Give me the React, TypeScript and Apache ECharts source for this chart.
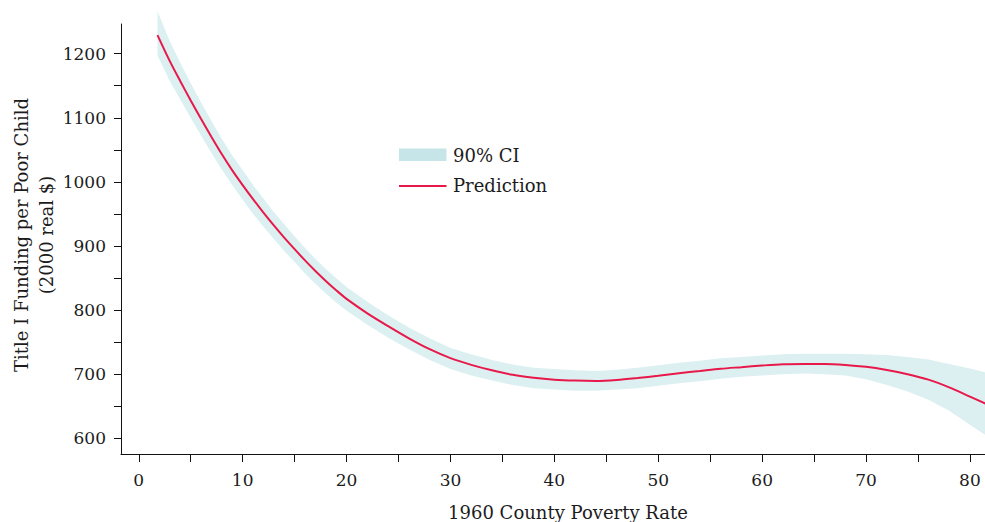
import React, { useEffect, useRef } from "react";
import * as echarts from "echarts";

const povertyRate = [1.8, 3, 4, 5, 6, 7, 8, 9, 10, 11, 12, 13, 14, 15, 16, 17, 18, 19, 20, 22, 24, 26, 28, 30, 32, 34, 36, 38, 40, 42, 44, 46, 48, 50, 52, 54, 56, 58, 60, 62, 64, 66, 68, 70, 72, 74, 76, 78, 80, 81.5];
const prediction = [1229, 1188, 1157, 1127, 1098, 1070, 1043, 1018, 995, 973, 952, 932, 913, 895, 877.5, 861, 845.5, 831, 817.5, 795, 775, 756, 739, 725, 714.5, 706, 699, 694.5, 691.5, 690, 689.5, 691, 694, 697.5, 701.5, 705, 708.5, 711, 713.5, 715.5, 716, 716, 714.5, 711.5, 706.5, 700, 691.5, 679.5, 665, 654];
const ciLower = [1197, 1157, 1128, 1100, 1072, 1045, 1019, 995, 972, 950, 930, 911, 892, 875, 857, 841, 826, 812, 799, 777, 757, 739, 722, 708, 698, 690, 683, 678, 676, 674, 674, 676, 678, 682, 686, 689, 693, 696, 698, 700, 701, 700, 698, 692, 683, 673, 660, 643, 621, 605];
const ciUpper = [1266, 1219, 1186, 1154, 1124, 1095, 1067, 1041, 1018, 995, 974, 953, 934, 915, 897, 880, 864, 850, 836, 813, 792, 773, 756, 741, 731, 722, 715, 710, 708, 706, 705, 707, 710, 714, 718, 721, 725, 727, 729, 731, 732, 732, 732, 731, 730, 727, 723, 716, 709, 703];

const xTickValues = [0, 5, 10, 15, 20, 25, 30, 35, 40, 45, 50, 55, 60, 65, 70, 75, 80];
const xLabelValues = [0, 10, 20, 30, 40, 50, 60, 70, 80];
const yTickValues = [600, 650, 700, 750, 800, 850, 900, 950, 1000, 1050, 1100, 1150, 1200];
const yLabelValues = [600, 700, 800, 900, 1000, 1100, 1200];

const FONT = "DejaVu Serif";
const TEXT = "#1c1c1c";
const BAND = "#dcf0f1";
const BAND_LEGEND = "#c5e5e8";
const LINE = "#e8194a";

export default function App() {
  const ref = useRef<HTMLDivElement>(null);
  useEffect(() => {
    const chart = echarts.init(ref.current as HTMLDivElement, null, { renderer: "svg" });
    chart.setOption({
      animation: false,
      grid: { left: 121, right: 0, top: 24, bottom: 68, containLabel: false },
      xAxis: {
        type: "value",
        min: -1.71,
        max: 81.45,
        axisLine: { show: true, onZero: false, lineStyle: { color: "#111", width: 1 } },
        axisTick: { show: true, customValues: xTickValues, length: 8, lineStyle: { color: "#111" } },
        axisLabel: {
          customValues: xLabelValues,
          fontFamily: FONT,
          fontSize: 17,
          color: TEXT,
          margin: 17,
          formatter: (v: number) => String(v),
        },
        splitLine: { show: false },
      },
      yAxis: {
        type: "value",
        min: 575.5,
        max: 1246.3,
        axisLine: { show: true, onZero: false, lineStyle: { color: "#111", width: 1 } },
        axisTick: { show: true, customValues: yTickValues, length: 7, lineStyle: { color: "#111" } },
        axisLabel: {
          customValues: yLabelValues,
          fontFamily: FONT,
          fontSize: 17,
          color: TEXT,
          margin: 15,
          formatter: (v: number) => String(v),
        },
        splitLine: { show: false },
      },
      series: [
        {
          type: "custom",
          name: "90% CI",
          clip: false,
          silent: true,
          z: 1,
          data: [[povertyRate[0], ciLower[0]]],
          encode: { x: 0, y: 1 },
          renderItem: (params: any, api: any) => {
            const top = povertyRate.map((x, i) => api.coord([x, ciUpper[i]]));
            const bottom = povertyRate.map((x, i) => api.coord([x, ciLower[i]])).reverse();
            return {
              type: "polygon",
              shape: { points: top.concat(bottom) },
              style: { fill: BAND },
            };
          },
        },
        {
          type: "line",
          name: "Prediction",
          data: povertyRate.map((x, i) => [x, prediction[i]]),
          symbol: "none",
          smooth: 0.3,
          clip: false,
          z: 3,
          lineStyle: { color: LINE, width: 2 },
        },
      ],
      graphic: [
        {
          type: "rect",
          shape: { x: 399, y: 148.5, width: 47.5, height: 12.5 },
          style: { fill: BAND_LEGEND },
        },
        {
          type: "text",
          x: 453,
          y: 155,
          style: { text: "90% CI", fontFamily: FONT, fontSize: 18, fill: TEXT, verticalAlign: "middle", align: "left" },
        },
        {
          type: "line",
          shape: { x1: 399, y1: 186, x2: 446.5, y2: 186 },
          style: { stroke: LINE, lineWidth: 2 },
        },
        {
          type: "text",
          x: 453,
          y: 185,
          style: { text: "Prediction", fontFamily: FONT, fontSize: 18, fill: TEXT, verticalAlign: "middle", align: "left" },
        },
        {
          type: "text",
          x: 568,
          y: 512,
          style: { text: "1960 County Poverty Rate", fontFamily: FONT, fontSize: 18, fill: TEXT, verticalAlign: "middle", align: "center" },
        },
        {
          type: "text",
          x: 34,
          y: 235,
          rotation: Math.PI / 2,
          style: {
            text: "Title I Funding per Poor Child\n(2000 real $)",
            fontFamily: FONT,
            fontSize: 18,
            lineHeight: 25,
            fill: TEXT,
            verticalAlign: "middle",
            align: "center",
          },
        },
      ],
    });
    return () => chart.dispose();
  }, []);
  return <div ref={ref} style={{ position: "absolute", left: 0, top: 0, width: 985, height: 522 }} />;
}
